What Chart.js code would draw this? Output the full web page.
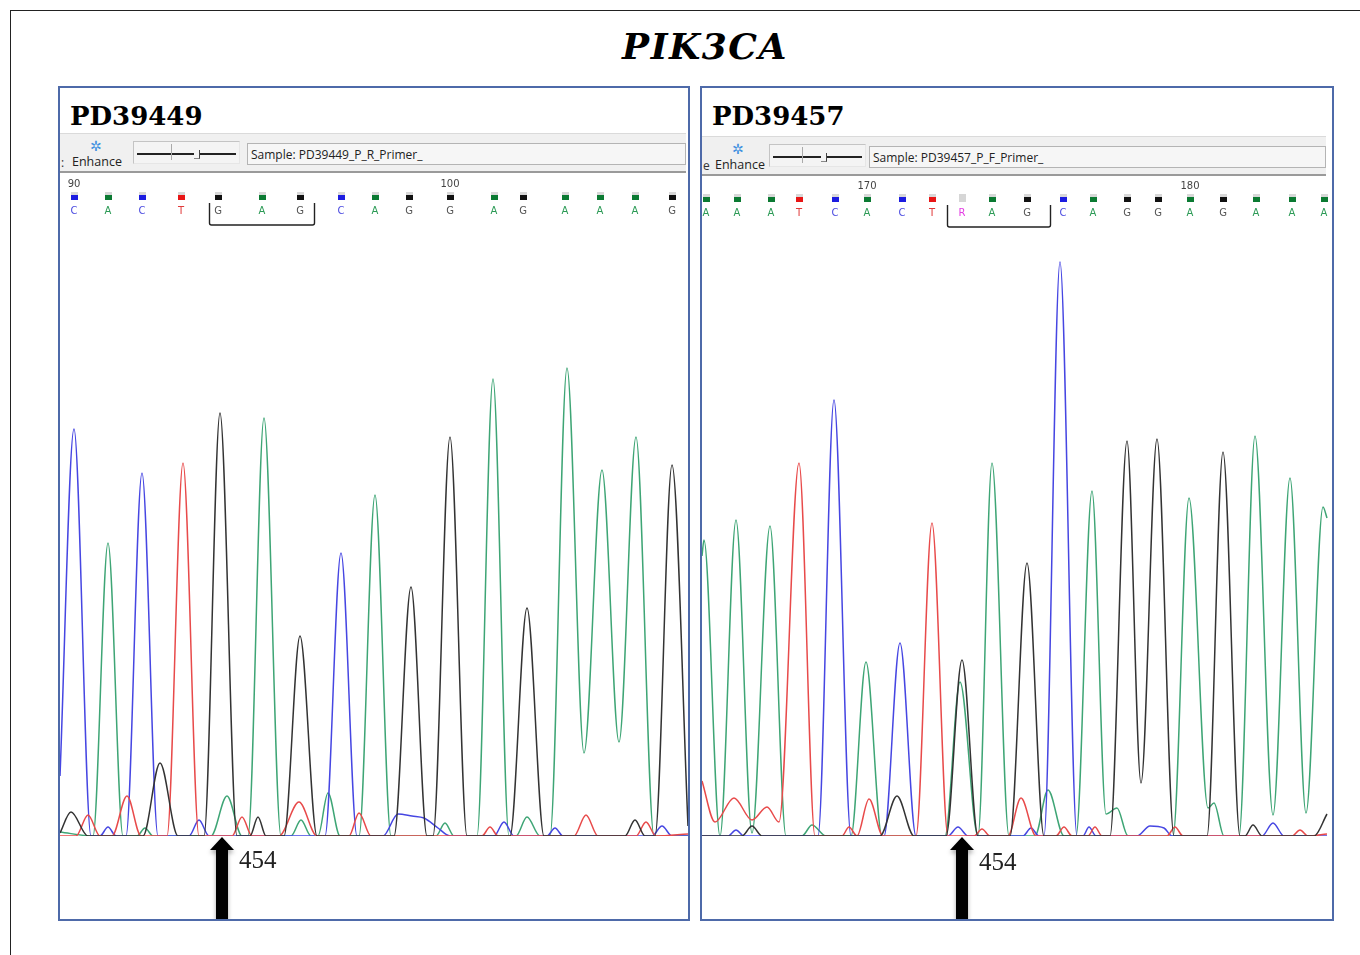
<!DOCTYPE html>
<html>
<head>
<meta charset="utf-8">
<script src="https://cdn.jsdelivr.net/npm/chart.js@4.4.0/dist/chart.umd.min.js"></script>
<style>
  body { margin: 0; background: #fff; width: 1360px; height: 955px; position: relative; overflow: hidden; font-family: "Open Sans", sans-serif; }
  #frame { position: absolute; left: 10px; top: 10px; width: 1360px; height: 960px; border-left: 1px solid #222; border-top: 1px solid #222; }
  #title { position: absolute; left: 405px; width: 600px; top: 28px; text-align: center; font: italic bold 36px/36px "DejaVu Serif", serif; letter-spacing: 1.5px; color: #000; }
  .panel { position: absolute; top: 86px; height: 831px; border: 2px solid #4e6aa9; background: #fff; }
  .name { position: absolute; left: 10px; top: 15px; font: bold 26px/26px "DejaVu Serif", serif; color: #000; }
  .bar { position: absolute; left: 0; height: 37px; background: #f0f0f0; border-top: 1px solid #dadada; border-bottom: 2px solid #9a9a9a; }
  .bar .cut { position: absolute; left: 1px; top: 20px; font-size: 12px; color: #333; }
  .bar .wand { position: absolute; top: 2px; font-size: 14px; color: #3d8fe0; }
  .bar .enh { position: absolute; top: 19px; font-size: 12.5px; color: #222; }
  .slider { position: absolute; top: 7px; height: 21px; border: 1px solid #c4c4c4; border-right-color: #e6e6e6; border-bottom-color: #e6e6e6; background: #f4f4f4; }
  .slider .trk { position: absolute; left: 3px; right: 3px; top: 11px; height: 2px; background: #222; }
  .slider .tick { position: absolute; top: 2px; height: 16px; width: 1px; background: #aaa; }
  .slider .knob { position: absolute; top: 8px; width: 5px; height: 8px; background: #f4f4f4; border-right: 1px solid #444; border-bottom: 1px solid #888; }
  .sample { position: absolute; top: 9px; height: 22px; border: 1px solid #b4b4b4; background: #f6f6f6; font-size: 12px; line-height: 22px; padding-left: 3px; color: #222; box-sizing: border-box; }
  canvas { position: absolute; left: 0; top: 88px; }
</style>
</head>
<body>
<div id="frame"></div>
<div id="title">PIK3CA</div>

<div class="panel" style="left:58px;width:628px">
  <div class="name">PD39449</div>
  <div class="bar" style="top:45px;width:626px">
    <span class="cut">:</span>
    <span class="wand" style="left:30px">✲</span>
    <span class="enh" style="left:12px">Enhance</span>
    <div class="slider" style="left:73px;width:105px"><i class="trk"></i><i class="tick" style="left:37px"></i><i class="knob" style="left:60px"></i></div>
    <div class="sample" style="left:187px;width:439px">Sample: PD39449_P_R_Primer_</div>
  </div>
  <canvas id="chartL" width="628" height="743"></canvas>
</div>

<div class="panel" style="left:700px;width:630px">
  <div class="name">PD39457</div>
  <div class="bar" style="top:48px;width:624px">
    <span class="cut">e</span>
    <span class="wand" style="left:30px">✲</span>
    <span class="enh" style="left:13px">Enhance</span>
    <div class="slider" style="left:67px;width:95px"><i class="trk"></i><i class="tick" style="left:32px"></i><i class="knob" style="left:51px"></i></div>
    <div class="sample" style="left:167px;width:457px">Sample: PD39457_P_F_Primer_</div>
  </div>
  <canvas id="chartR" width="630" height="743"></canvas>
</div>

<script>
// trace key points per dye channel: [scan, signal]
// PD39449 (reverse primer), scans 0..628
const leftA = [[0,4],[33,0],[48,293],[63,0],[77,0],[85,8],[93,0],[151,0],[167,40],[182,0],[188,0],[204,418],[221,0],[231,0],[241,16],[251,0],[258,0],[268,43],[280,0],[299,0],[315,341],[331,0],[376,0],[385,13],[394,0],[417,0],[433,457],[449,0],[456,0],[467,19],[480,0],[490,0],[507,468],[524,83],[542,366],[559,94],[576,399],[594,0],[628,0]];
const leftC = [[0,60],[14,407],[31,0],[40,0],[48,9],[56,0],[66,0],[82,363],[98,0],[129,0],[139,16],[149,0],[265,0],[281,283],[297,0],[323,0],[338,22],[352,20],[364,18],[378,8],[390,0],[434,0],[444,14],[454,0],[487,0],[495,8],[503,0],[592,0],[602,10],[612,0],[628,0]];
const leftG = [[0,3],[11,24],[28,0],[83,0],[100,73],[118,0],[144,0],[160,423],[177,0],[190,0],[198,19],[206,0],[224,0],[240,200],[257,0],[334,0],[351,249],[367,0],[373,0],[390,399],[407,0],[450,0],[467,228],[484,0],[565,0],[575,16],[585,0],[595,0],[612,371],[628,10]];
const leftT = [[0,0],[16,0],[28,21],[40,0],[52,0],[67,40],[81,0],[107,0],[123,373],[139,0],[172,0],[182,19],[192,0],[219,0],[239,34],[257,0],[289,0],[299,23],[311,0],[422,0],[430,9],[438,0],[514,0],[526,21],[538,0],[576,0],[586,14],[596,0],[628,2]];
const leftBases = ['C','A','C','T','G','A','G','C','A','G','G','A','G','A','A','A','G'];
const leftCallScans = [14,48,82,121,158,202,240,281,315,349,390,434,463,505,540,575,612];
const leftFirstPos = 90;
const leftCodon = [149, 254];
const leftMark = 162;

// PD39457 (forward primer), scans 0..630
const rightA = [[0,280],[2,296],[18,0],[34,316],[50,3],[68,310],[84,0],[100,0],[110,11],[124,0],[149,0],[164,174],[180,0],[243,0],[258,154],[276,0],[290,373],[307,0],[333,0],[346,46],[362,0],[374,0],[390,345],[404,22],[415,28],[426,0],[471,0],[487,338],[506,28],[512,33],[522,0],[537,0],[553,400],[571,21],[588,358],[604,23],[621,329],[625,318]];
const rightC = [[0,0],[26,0],[34,6],[42,0],[116,0],[132,436],[149,0],[182,0],[198,193],[214,0],[246,0],[256,9],[266,0],[321,0],[329,8],[337,0],[342,0],[358,574],[375,0],[381,0],[387,9],[394,0],[435,0],[448,10],[462,8],[470,0],[560,0],[571,13],[582,0],[625,0]];
const rightG = [[0,0],[40,0],[50,10],[60,0],[178,0],[195,40],[212,0],[244,0],[260,176],[276,0],[308,0],[325,273],[342,0],[408,0],[425,395],[439,53],[455,397],[472,0],[505,0],[521,384],[538,0],[543,0],[551,11],[560,0],[612,0],[625,22]];
const rightT = [[0,55],[13,14],[32,38],[50,16],[65,29],[77,14],[97,373],[113,0],[140,0],[147,9],[155,0],[167,37],[181,0],[214,0],[230,313],[246,0],[272,0],[280,7],[288,0],[306,0],[319,38],[334,0],[354,0],[362,9],[370,0],[386,0],[393,9],[400,0],[465,0],[473,9],[481,0],[590,0],[598,6],[606,0],[625,2]];
const rightBases = ['A','A','A','T','C','A','C','T','R','A','G','C','A','G','G','A','G','A','A','A'];
const rightCallScans = [4,35,69,97,133,165,200,230,260,290,325,361,391,425,456,488,521,554,590,622];
const rightFirstPos = 165;
const rightCodon = [245, 348];
const rightMark = 260;

const traceColor = { A: '#3ea575', C: '#4646e2', G: '#333333', T: '#e84a4a' };
const squareColor = { A: '#0b7a32', C: '#1c1ce0', G: '#111111', T: '#e81515', R: '#d6d6d6' };
const letterColor = { A: '#2b9a55', C: '#4b4be0', G: '#555555', T: '#e03a3a', R: '#e33de3' };

// base calls row, codon bracket and the marker arrow
const callsPlugin = {
  id: 'calls',
  afterDraw(chart) {
    const o = chart.options.plugins.calls;
    const ctx = chart.ctx, x = chart.scales.x, area = chart.chartArea;
    const dy = o.dy;
    ctx.save();
    ctx.textAlign = 'center';
    ctx.textBaseline = 'middle';
    o.bases.forEach((b, i) => {
      const px = Math.round(x.getPixelForValue(o.scans[i]));
      const pos = o.start + i;
      if (pos % 10 === 0) {
        ctx.font = '10px "DejaVu Sans"';
        ctx.fillStyle = '#444';
        ctx.fillText(String(pos), px, 8 + dy);
      }
      if (b === 'R') {
        ctx.fillStyle = squareColor.R;
        ctx.fillRect(px - 3, 16 + dy, 7, 8);
      } else {
        ctx.fillStyle = '#d8d8d8';
        ctx.fillRect(px - 3, 16 + dy, 7, 3);
        ctx.fillStyle = squareColor[b];
        ctx.fillRect(px - 3, 19 + dy, 7, 5);
      }
      ctx.font = '10px "DejaVu Sans"';
      ctx.fillStyle = letterColor[b];
      ctx.fillText(b, px, 35 + dy);
    });

    const xl = Math.round(x.getPixelForValue(o.codon[0])) + 0.5;
    const xr = Math.round(x.getPixelForValue(o.codon[1])) + 0.5;
    ctx.strokeStyle = '#222';
    ctx.lineWidth = 1.4;
    ctx.beginPath();
    ctx.moveTo(xl, 27 + dy);
    ctx.lineTo(xl, 47 + dy);
    ctx.quadraticCurveTo(xl, 49 + dy, xl + 2, 49 + dy);
    ctx.lineTo(xr - 2, 49 + dy);
    ctx.quadraticCurveTo(xr, 49 + dy, xr, 47 + dy);
    ctx.lineTo(xr, 27 + dy);
    ctx.stroke();

    const ax = x.getPixelForValue(o.mark);
    const top = area.bottom + 1, bottom = chart.height;
    ctx.shadowColor = 'rgba(0,0,0,0.35)';
    ctx.shadowBlur = 4;
    ctx.shadowOffsetY = 3;
    ctx.fillStyle = '#000';
    ctx.beginPath();
    ctx.moveTo(ax, top);
    ctx.lineTo(ax + 12, top + 13);
    ctx.lineTo(ax + 6, top + 13);
    ctx.lineTo(ax + 6, bottom);
    ctx.lineTo(ax - 6, bottom);
    ctx.lineTo(ax - 6, top + 13);
    ctx.lineTo(ax - 12, top + 13);
    ctx.closePath();
    ctx.fill();

    ctx.shadowColor = 'transparent';
    ctx.font = '25px "Liberation Serif"';
    ctx.fillStyle = '#222';
    ctx.textAlign = 'left';
    ctx.textBaseline = 'alphabetic';
    ctx.fillText(o.label, ax + 17, top + 31 + dy);
    ctx.restore();
  }
};

function toPoints(arr) {
  return arr.map(p => ({ x: p[0], y: p[1] }));
}

function trace(label, pts) {
  return {
    label: label,
    data: toPoints(pts),
    borderColor: traceColor[label],
    borderWidth: 1.5,
    pointRadius: 0,
    cubicInterpolationMode: 'monotone',
    fill: false
  };
}

function makeChart(id, tr, calls, maxScan) {
  return new Chart(document.getElementById(id), {
    type: 'line',
    data: {
      datasets: [trace('G', tr.G), trace('T', tr.T), trace('C', tr.C), trace('A', tr.A)]
    },
    options: {
      responsive: false,
      animation: false,
      layout: { padding: { top: 60, bottom: 83, left: 0, right: 0 } },
      scales: {
        x: { type: 'linear', min: 0, max: maxScan, display: false },
        y: { min: 0, max: 600, display: false }
      },
      plugins: {
        legend: { display: false },
        tooltip: { enabled: false },
        calls: calls
      }
    },
    plugins: [callsPlugin]
  });
}

makeChart('chartL', { A: leftA, C: leftC, G: leftG, T: leftT }, {
  bases: leftBases, scans: leftCallScans, start: leftFirstPos,
  codon: leftCodon, mark: leftMark, label: '454', dy: 0
}, 628);

makeChart('chartR', { A: rightA, C: rightC, G: rightG, T: rightT }, {
  bases: rightBases, scans: rightCallScans, start: rightFirstPos,
  codon: rightCodon, mark: rightMark, label: '454', dy: 2
}, 630);
</script>
</body>
</html>
